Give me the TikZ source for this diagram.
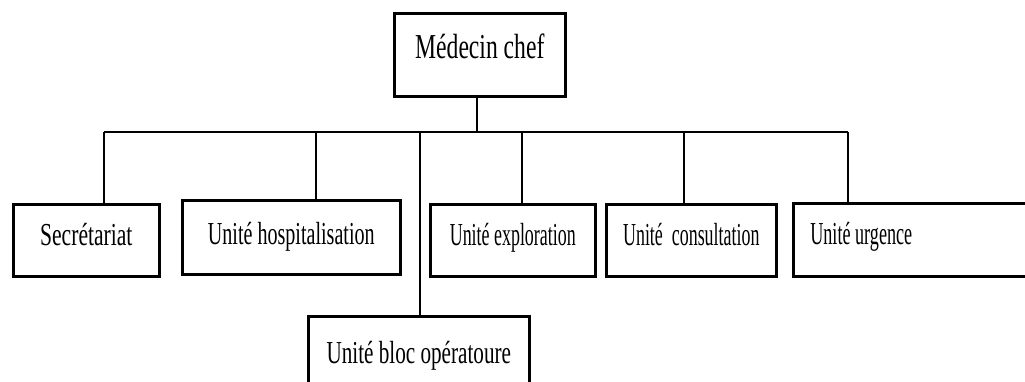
\documentclass[tikz,border=0pt]{standalone}
\usepackage{graphicx}
\usepackage{fontspec}
\setmainfont[FakeStretch=0.675]{Liberation Serif}
% horizontally narrowed label
\newcommand{\narrow}[2]{\scalebox{#1}[1]{#2}}
\begin{document}
\begin{tikzpicture}[x=1pt,y=-1pt,
  unitbox/.style={draw=black, line width=2.6pt, anchor=north west, inner sep=0pt,
    font=\fontsize{32}{38}\selectfont, text height=41pt, text depth=31pt},
  link/.style={draw=black, line width=1.9pt}]
\useasboundingbox (0,0) rectangle (1025,381);
\clip (0,0) rectangle (1025,381);

% head of the organisation
\node[unitbox, font=\fontsize{35}{42}\selectfont, minimum width=171pt,
      text height=45pt, text depth=38pt] (chef) at (393,12) {Médecin chef};

% units
\node[unitbox, minimum width=146pt] (sec) at (12,203) {Secrétariat};
\node[unitbox, minimum width=218pt, text height=44pt, text depth=30pt] (hosp) at (181,199)
  {\narrow{0.93}{Unité hospitalisation}};
\node[unitbox, minimum width=221pt, text height=47pt, text depth=40pt] (bloc) at (307,315)
  {\narrow{0.98}{Unité bloc opératoure}};
\node[unitbox, minimum width=165pt] (expl) at (429,203)
  {\narrow{0.83}{Unité exploration}};
\node[unitbox, minimum width=170pt] (cons) at (605,203)
  {\narrow{0.83}{Unité \ consultation}};
\node[unitbox, inner xsep=17pt, text height=41pt, text depth=32pt] (urg) at (792,202)
  {\makebox[240pt][l]{\narrow{0.84}{Unité urgence}}};

% horizontal distribution bar and its drop points
\coordinate (barL) at (104,132);
\coordinate (barR) at (848,132);
\coordinate (dhosp) at (316,132);
\coordinate (dbloc) at (420,132);
\coordinate (dexpl) at (522,132);
\coordinate (dcons) at (684,132);

\draw[link] (chef.south -| 477,0) -- (477,132);
\draw[link] (barL) -- (barR);
\draw[link] (barL) -- (barL |- sec.north);
\draw[link] (dhosp) -- (dhosp |- hosp.north);
\draw[link] (dbloc) -- (dbloc |- bloc.north);
\draw[link] (dexpl) -- (dexpl |- expl.north);
\draw[link] (dcons) -- (dcons |- cons.north);
\draw[link] (barR) -- (barR |- urg.north);
\end{tikzpicture}
\end{document}
